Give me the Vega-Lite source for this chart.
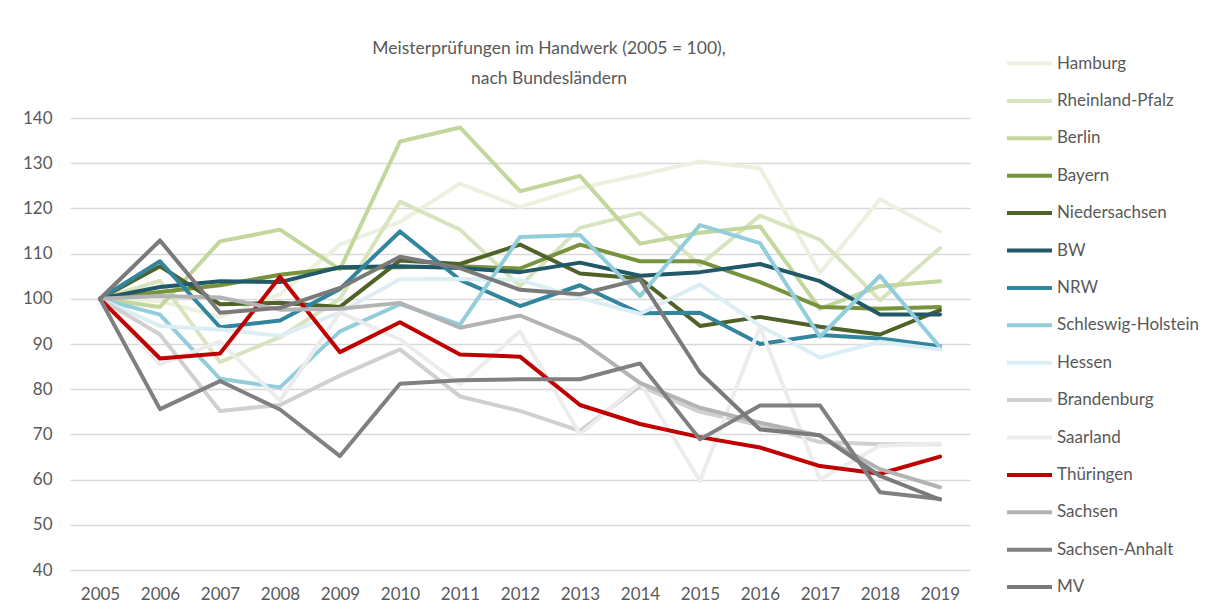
{
  "$schema": "https://vega.github.io/schema/vega-lite/v6.json",
  "width": 900,
  "height": 452,
  "autosize": {"type": "none"},
  "padding": {"left": 70, "top": 118, "right": 251, "bottom": 42},
  "background": "white",
  "config": {"font": "Lato", "view": {"stroke": null}},
  "title": {
    "text": ["Meisterprüfungen im Handwerk (2005 = 100),", "nach Bundesländern"],
    "fontSize": 17.5, "fontWeight": "normal", "color": "#595959",
    "anchor": "middle", "offset": -48, "dx": 29, "lineHeight": 30
  },
  "data": {"values": [
    {"Jahr": "2005", "Hamburg": 100, "Rheinland-Pfalz": 100, "Berlin": 100, "Bayern": 100, "Niedersachsen": 100, "BW": 100, "NRW": 100, "Schleswig-Holstein": 100, "Hessen": 100, "Brandenburg": 100, "Saarland": 100, "Thüringen": 100, "Sachsen": 100, "Sachsen-Anhalt": 100, "MV": 100},
    {"Jahr": "2006", "Hamburg": 99.5, "Rheinland-Pfalz": 104, "Berlin": 98.2, "Bayern": 101.5, "Niedersachsen": 107.2, "BW": 102.6, "NRW": 108.3, "Schleswig-Holstein": 96.5, "Hessen": 94, "Brandenburg": 92.1, "Saarland": 85.5, "Thüringen": 86.8, "Sachsen": 100.6, "Sachsen-Anhalt": 75.6, "MV": 112.9},
    {"Jahr": "2007", "Hamburg": 96, "Rheinland-Pfalz": 86, "Berlin": 112.7, "Bayern": 103, "Niedersachsen": 98.8, "BW": 103.9, "NRW": 93.7, "Schleswig-Holstein": 82.3, "Hessen": 93.2, "Brandenburg": 75.2, "Saarland": 90.5, "Thüringen": 87.9, "Sachsen": 100.3, "Sachsen-Anhalt": 81.8, "MV": 96.9},
    {"Jahr": "2008", "Hamburg": 101, "Rheinland-Pfalz": 91.5, "Berlin": 115.3, "Bayern": 105.3, "Niedersachsen": 99.1, "BW": 103.7, "NRW": 95.2, "Schleswig-Holstein": 80.4, "Hessen": 91.8, "Brandenburg": 76.5, "Saarland": 77.5, "Thüringen": 104.9, "Sachsen": 97.6, "Sachsen-Anhalt": 75.5, "MV": 98},
    {"Jahr": "2009", "Hamburg": 112, "Rheinland-Pfalz": 100, "Berlin": 106.5, "Bayern": 106.8, "Niedersachsen": 98.2, "BW": 107, "NRW": 102.2, "Schleswig-Holstein": 92.8, "Hessen": 97, "Brandenburg": 83, "Saarland": 97, "Thüringen": 88.2, "Sachsen": 97.8, "Sachsen-Anhalt": 65.2, "MV": 102.4},
    {"Jahr": "2010", "Hamburg": 117, "Rheinland-Pfalz": 121.5, "Berlin": 134.8, "Bayern": 107, "Niedersachsen": 108.5, "BW": 107.2, "NRW": 114.9, "Schleswig-Holstein": 98.8, "Hessen": 104.3, "Brandenburg": 88.8, "Saarland": 91, "Thüringen": 94.8, "Sachsen": 99.1, "Sachsen-Anhalt": 81.2, "MV": 109.3},
    {"Jahr": "2011", "Hamburg": 125.5, "Rheinland-Pfalz": 115.3, "Berlin": 137.9, "Bayern": 107.2, "Niedersachsen": 107.7, "BW": 106.8, "NRW": 104.2, "Schleswig-Holstein": 94.3, "Hessen": 104.4, "Brandenburg": 78.4, "Saarland": 81, "Thüringen": 87.7, "Sachsen": 93.6, "Sachsen-Anhalt": 82, "MV": 106.8},
    {"Jahr": "2012", "Hamburg": 120.3, "Rheinland-Pfalz": 102.8, "Berlin": 123.8, "Bayern": 106.7, "Niedersachsen": 112, "BW": 105.9, "NRW": 98.4, "Schleswig-Holstein": 113.7, "Hessen": 104.2, "Brandenburg": 75.2, "Saarland": 92.8, "Thüringen": 87.2, "Sachsen": 96.3, "Sachsen-Anhalt": 82.2, "MV": 102},
    {"Jahr": "2013", "Hamburg": 124.5, "Rheinland-Pfalz": 115.7, "Berlin": 127.2, "Bayern": 112, "Niedersachsen": 105.6, "BW": 108, "NRW": 103, "Schleswig-Holstein": 114.1, "Hessen": 100.2, "Brandenburg": 70.8, "Saarland": 70, "Thüringen": 76.5, "Sachsen": 90.8, "Sachsen-Anhalt": 82.2, "MV": 101},
    {"Jahr": "2014", "Hamburg": 127.4, "Rheinland-Pfalz": 119, "Berlin": 112.2, "Bayern": 108.3, "Niedersachsen": 104.5, "BW": 105.1, "NRW": 96.8, "Schleswig-Holstein": 100.6, "Hessen": 96.7, "Brandenburg": 80.7, "Saarland": 81.5, "Thüringen": 72.3, "Sachsen": 81.4, "Sachsen-Anhalt": 85.7, "MV": 104.3},
    {"Jahr": "2015", "Hamburg": 130.4, "Rheinland-Pfalz": 107.5, "Berlin": 114.6, "Bayern": 108.3, "Niedersachsen": 94, "BW": 105.9, "NRW": 96.9, "Schleswig-Holstein": 116.3, "Hessen": 103.2, "Brandenburg": 75, "Saarland": 59.7, "Thüringen": 69.4, "Sachsen": 75.9, "Sachsen-Anhalt": 68.9, "MV": 83.7},
    {"Jahr": "2016", "Hamburg": 128.9, "Rheinland-Pfalz": 118.4, "Berlin": 116, "Bayern": 103.7, "Niedersachsen": 96, "BW": 107.7, "NRW": 90, "Schleswig-Holstein": 112.3, "Hessen": 94, "Brandenburg": 72, "Saarland": 93.8, "Thüringen": 67.1, "Sachsen": 72.6, "Sachsen-Anhalt": 76.4, "MV": 71.1},
    {"Jahr": "2017", "Hamburg": 105.7, "Rheinland-Pfalz": 113.1, "Berlin": 97.8, "Bayern": 98.2, "Niedersachsen": 93.8, "BW": 103.9, "NRW": 92, "Schleswig-Holstein": 91.6, "Hessen": 87, "Brandenburg": 68.3, "Saarland": 60, "Thüringen": 63, "Sachsen": 69.7, "Sachsen-Anhalt": 76.4, "MV": 69.8},
    {"Jahr": "2018", "Hamburg": 122, "Rheinland-Pfalz": 99.7, "Berlin": 102.8, "Bayern": 97.8, "Niedersachsen": 92.1, "BW": 96.5, "NRW": 91.2, "Schleswig-Holstein": 105.1, "Hessen": 90.5, "Brandenburg": 67.8, "Saarland": 67.5, "Thüringen": 61.3, "Sachsen": 62.3, "Sachsen-Anhalt": 57.2, "MV": 60.8},
    {"Jahr": "2019", "Hamburg": 114.9, "Rheinland-Pfalz": 111.2, "Berlin": 103.9, "Bayern": 98.2, "Niedersachsen": 97.5, "BW": 96.5, "NRW": 89.5, "Schleswig-Holstein": 89.3, "Hessen": 88.8, "Brandenburg": 67.8, "Saarland": 68, "Thüringen": 65.1, "Sachsen": 58.3, "Sachsen-Anhalt": 55.7, "MV": 55.6}
  ]},
  "transform": [
    {"fold": ["Hamburg", "Rheinland-Pfalz", "Berlin", "Bayern", "Niedersachsen", "BW", "NRW", "Schleswig-Holstein", "Hessen", "Brandenburg", "Saarland", "Thüringen", "Sachsen", "Sachsen-Anhalt", "MV"], "as": ["Land", "Wert"]}
  ],
  "mark": {"type": "line", "strokeWidth": 4, "strokeJoin": "round", "strokeCap": "round"},
  "encoding": {
    "x": {
      "field": "Jahr", "type": "ordinal",
      "scale": {"type": "point", "padding": 0.5},
      "axis": {"title": null, "labelAngle": 0, "ticks": false, "domain": false, "grid": false, "labelFontSize": 17, "labelColor": "#595959", "labelPadding": 16}
    },
    "y": {
      "field": "Wert", "type": "quantitative",
      "scale": {"domain": [40, 140], "nice": false, "zero": false},
      "axis": {"title": null, "values": [40, 50, 60, 70, 80, 90, 100, 110, 120, 130, 140], "ticks": false, "domain": false, "gridColor": "#d9d9d9", "gridWidth": 1.5, "labelFontSize": 17, "labelColor": "#595959", "labelPadding": 18}
    },
    "color": {
      "field": "Land", "type": "nominal",
      "scale": {
        "domain": ["Hamburg", "Rheinland-Pfalz", "Berlin", "Bayern", "Niedersachsen", "BW", "NRW", "Schleswig-Holstein", "Hessen", "Brandenburg", "Saarland", "Thüringen", "Sachsen", "Sachsen-Anhalt", "MV"],
        "range": ["#ebf1de", "#d7e4bd", "#c3d69b", "#77933c", "#4f6228", "#215968", "#31859c", "#92cddc", "#dbeef4", "#d0d0d0", "#ececec", "#c00000", "#b3b3b3", "#808080", "#7a7a7a"]
      },
      "legend": {
        "title": null, "orient": "none", "legendX": 935, "legendY": -79,
        "symbolType": "stroke", "symbolSize": 2025, "symbolStrokeWidth": 4,
        "labelFontSize": 17, "labelColor": "#595959", "labelOffset": 3,
        "rowPadding": 4.4, "labelLimit": 200
      }
    }
  }
}
